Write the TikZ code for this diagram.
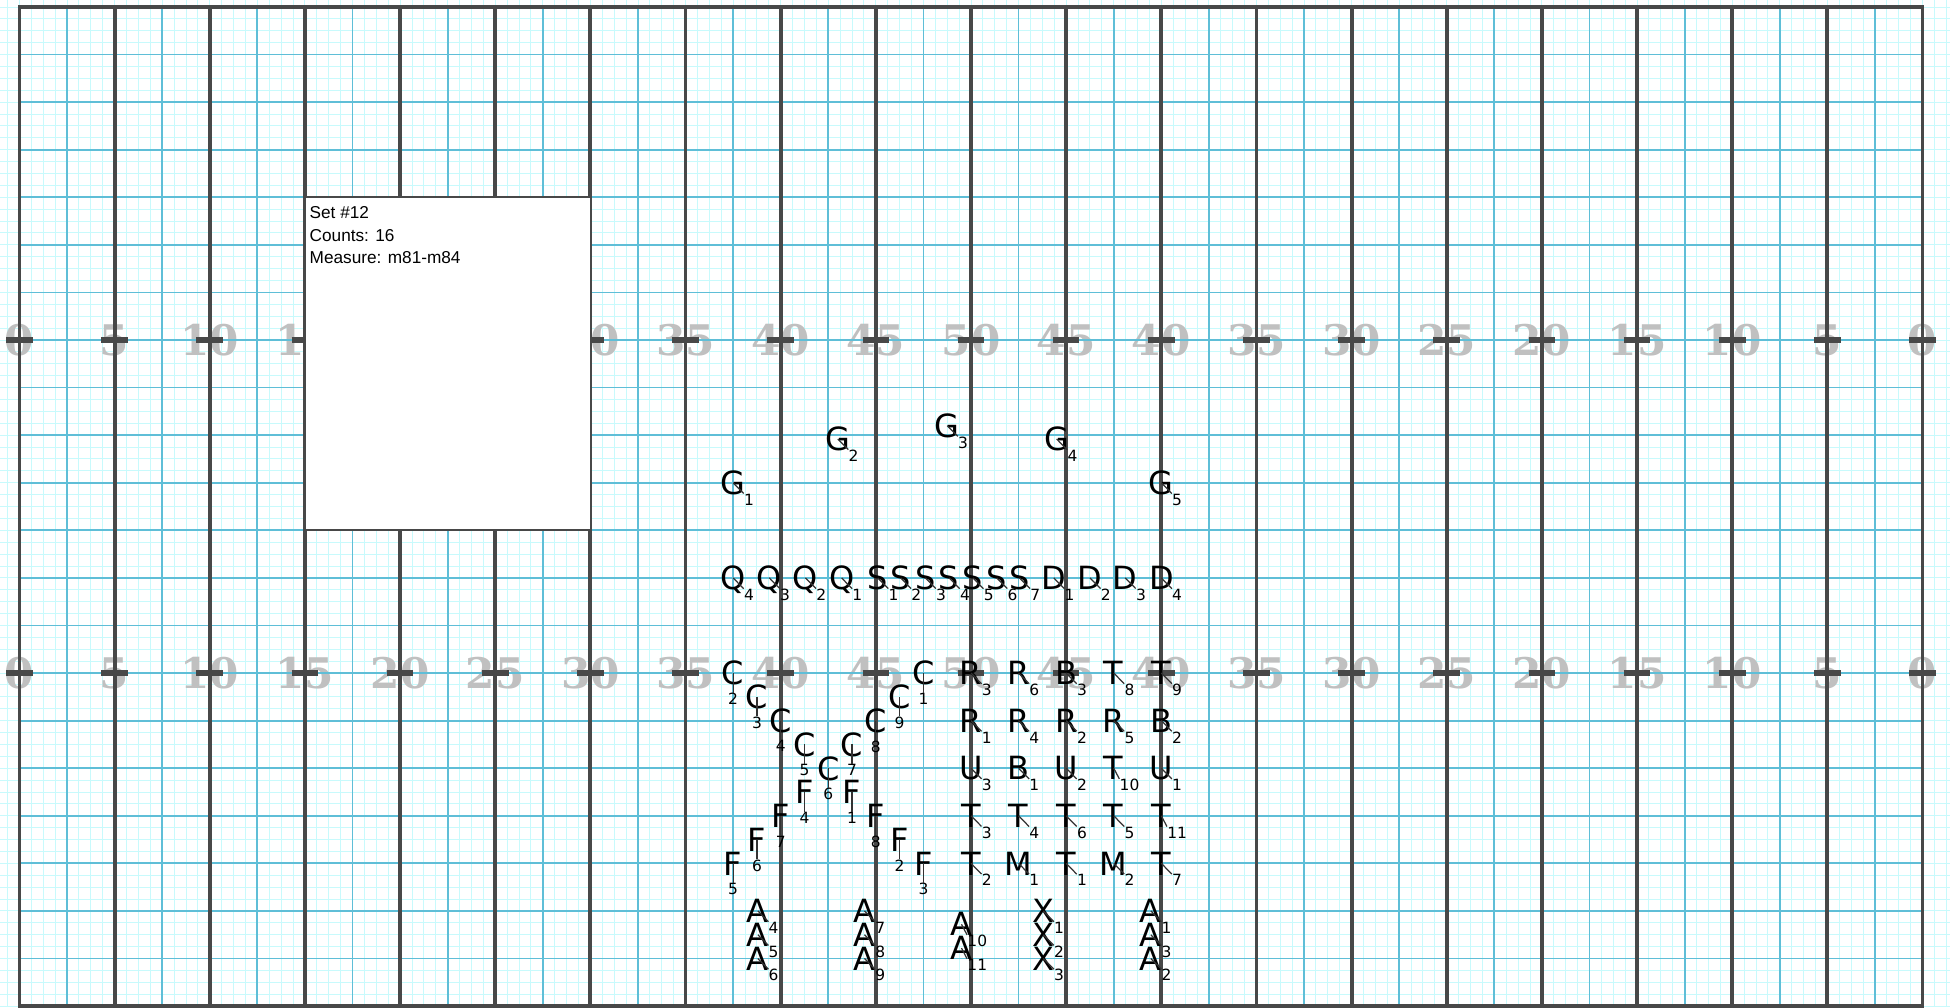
\documentclass[tikz,border=0pt]{standalone}
\usepackage{fontspec}
\setmainfont{Liberation Sans}
\newfontfamily\perffont{DejaVu Sans}
\newfontfamily\yardfont{DejaVu Serif}
\usepackage{tikz}
\usepackage{xcolor}
\definecolor{finecyan}{RGB}{200,250,252}
\definecolor{gridblue}{RGB}{95,190,215}
\definecolor{darkline}{RGB}{72,72,72}
\definecolor{numgray}{RGB}{192,192,192}
\tikzset{
  fineln/.style={line width=0.55pt, finecyan},
  bluln/.style={line width=1pt, gridblue},
  yardln/.style={line width=2.2pt, darkline},
  hashmk/.style={line width=3.4pt, darkline},
  yardnum/.style={inner sep=0, text=numgray, font=\yardfont\bfseries\fontsize{24}{24}\selectfont},
  mbr/.style={inner sep=0, text depth=0pt, font=\perffont\fontsize{18.2}{18}\selectfont},
  mbrnum/.style={inner sep=0, text depth=0pt, font=\perffont\fontsize{8.8}{9}\selectfont},
  lead/.style={line width=0.7pt, black!80},
  setbox/.style={draw=darkline, line width=1pt, fill=white},
  settxt/.style={inner sep=0, anchor=base west, font=\fontsize{9.8}{12.8}\selectfont},
}
% marcher with its number down right
\newcommand{\marcher}[4]{%
  \node[mbr] (#1#2) at (#3,#4) {#1};
  \node[mbrnum] (#1#2n) at ([shift={(0.83,0.88)}]#1#2.center) {#2};
  \draw[lead] (#1#2.center) -- (#1#2n.north west);
}
% marcher with its number straight below
\newcommand{\marcherb}[4]{%
  \node[mbr] (#1#2) at (#3,#4) {#1};
  \node[mbrnum] (#1#2n) at ([shift={(0,1.35)}]#1#2.center) {#2};
  \draw[lead] (#1#2.center) -- (#1#2n.north);
}

\begin{document}
\begin{tikzpicture}[x=0.3806cm, y=-0.3806cm]
  \useasboundingbox (-1.0247,-0.3678) rectangle (101.445,52.549);
  \fill[white] (-1.0247,-0.3678) rectangle (101.445,52.549);
  % --- step grid ---
  \foreach \k in {-1,...,162}{ \draw[fineln] (\k*0.625,-0.37) -- (\k*0.625,52.55); }
  \foreach \k in {0,...,84}{ \draw[fineln] (-1.03,\k*0.625) -- (101.45,\k*0.625); }
  % --- yard numbers ---
  \foreach \i in {0,...,20}{
    \pgfmathtruncatemacro\lab{5*min(\i,20-\i)}
    \node[yardnum] (ya\i) at (5*\i,17.5) {\lab};
    \node[yardnum] (yb\i) at (5*\i,35) {\lab};
  }
  % --- field lines ---
  \foreach \k in {0,...,19}{ \draw[bluln] (2.5+5*\k,0) -- (2.5+5*\k,52.5); }
  \foreach \k in {1,...,20}{ \draw[bluln] (0,2.5*\k) -- (100,2.5*\k); }
  \foreach \k in {1,...,19}{ \draw[yardln] (5*\k,0) -- (5*\k,52.5); }
  \draw[yardln] (0,0) rectangle (100,52.5);
  \foreach \k in {0,...,20}{
    \draw[hashmk] (5*\k-0.7,17.5) -- (5*\k+0.7,17.5);
    \draw[hashmk] (5*\k-0.7,35) -- (5*\k+0.7,35);
  }
  % --- set info ---
  \draw[setbox] (15,10) rectangle (30,27.5);
  \node[settxt] (set) at (15.23,11.14) {Set \#12};
  \node[settxt] (counts) at (15.23,12.33) {Counts: 16};
  \node[settxt] (meas) at (15.23,13.5) {Measure: m81-m84};
  % --- guard arc ---
  \foreach \l/\n/\px/\py in {G/1/37.5/25, G/2/43/22.7, G/3/48.75/22, G/4/54.5/22.7, G/5/60/25}
    { \marcher{\l}{\n}{\px}{\py} }
  % --- front line ---
  \foreach \l/\n/\px/\py in {Q/4/37.5/30, Q/3/39.4/30, Q/2/41.3/30, Q/1/43.2/30,
      S/1/45.1/30, S/2/46.3/30, S/3/47.6/30, S/4/48.85/30, S/5/50.1/30, S/6/51.35/30, S/7/52.55/30,
      D/1/54.35/30, D/2/56.25/30, D/3/58.1/30, D/4/60/30}
    { \marcher{\l}{\n}{\px}{\py} }
  % --- C and F wedges ---
  \foreach \l/\n/\px/\py in {C/2/37.5/35, C/3/38.75/36.25, C/4/40/37.5, C/5/41.25/38.75, C/6/42.5/40,
      C/7/43.75/38.75, C/8/45/37.5, C/9/46.25/36.25, C/1/47.5/35,
      F/4/41.25/41.25, F/1/43.75/41.25, F/7/40/42.5, F/8/45/42.5,
      F/6/38.75/43.75, F/2/46.25/43.75, F/5/37.5/45, F/3/47.5/45}
    { \marcherb{\l}{\n}{\px}{\py} }
  % --- block ---
  \foreach \l/\n/\px/\py in {R/3/50/35, R/6/52.5/35, B/3/55/35, T/8/57.5/35, T/9/60/35,
      R/1/50/37.5, R/4/52.5/37.5, R/2/55/37.5, R/5/57.5/37.5, B/2/60/37.5,
      U/3/50/40, B/1/52.5/40, U/2/55/40, T/10/57.5/40, U/1/60/40,
      T/3/50/42.5, T/4/52.5/42.5, T/6/55/42.5, T/5/57.5/42.5, T/11/60/42.5,
      T/2/50/45, M/1/52.5/45, T/1/55/45, M/2/57.5/45, T/7/60/45}
    { \marcher{\l}{\n}{\px}{\py} }
  % --- A and X files ---
  \foreach \l/\n/\px/\py in {A/4/38.8/47.5, A/5/38.8/48.75, A/6/38.8/50,
      A/7/44.4/47.5, A/8/44.4/48.75, A/9/44.4/50, A/10/49.5/48.2, A/11/49.5/49.45,
      X/1/53.8/47.5, X/2/53.8/48.75, X/3/53.8/50,
      A/1/59.45/47.5, A/3/59.45/48.75, A/2/59.45/50}
    { \marcher{\l}{\n}{\px}{\py} }
\end{tikzpicture}
\end{document}
